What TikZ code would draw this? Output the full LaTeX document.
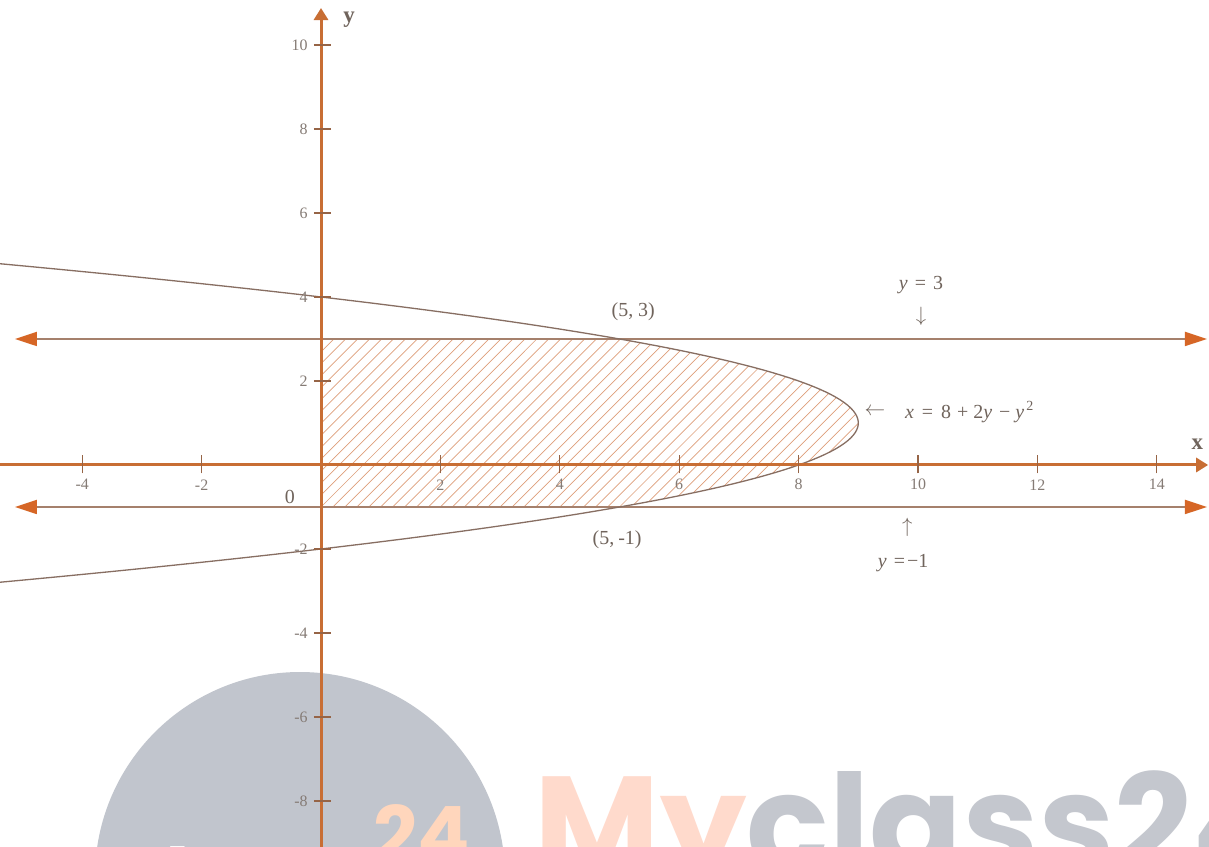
\documentclass[tikz,border=0pt]{standalone}
\usepackage{fontspec}
\setmainfont{Liberation Serif}
\newfontfamily\wmfont{Poppins}
\usetikzlibrary{arrows.meta}
\definecolor{axisc}{RGB}{200,110,52}
\definecolor{tickc}{RGB}{150,100,70}
\definecolor{linec}{RGB}{165,128,108}
\definecolor{tipc}{RGB}{214,102,38}
\definecolor{curvec}{RGB}{135,110,98}
\definecolor{hatchc}{RGB}{222,158,122}
\definecolor{txtc}{RGB}{112,100,92}
\definecolor{wmgray}{RGB}{193,197,205}
\definecolor{wmtext}{RGB}{196,199,206}
\definecolor{wmorange}{RGB}{255,218,204}
\definecolor{wmorangeb}{RGB}{255,214,188}
\begin{document}
\begin{tikzpicture}[x=59.7bp,y=42bp,
  axisline/.style={draw=axisc,line width=3bp,-{Triangle[length=12bp,width=14bp]}},
  boundline/.style={draw=linec,line width=1.8bp,{Triangle[length=22bp,width=14bp,color=tipc,fill=tipc]}-{Triangle[length=22bp,width=14bp,color=tipc,fill=tipc]}},
  tickmark/.style={draw=tickc,line width=1.1bp},
  ticklab/.style={text=txtc!85,font=\fontsize{16}{16}\selectfont,inner sep=0pt},
  lab/.style={text=txtc,font=\fontsize{20}{20}\selectfont,inner sep=0pt},
  axlab/.style={text=txtc,font=\fontsize{23}{23}\selectfont\bfseries,inner sep=0pt},
  curve/.style={draw=curvec,line width=1.3bp},
  hatchline/.style={draw=hatchc,line width=0.7bp},
  wm/.style={inner sep=0pt,anchor=base west}
]
\useasboundingbox (-5.377,-9.095) rectangle (14.874,11.071);
\clip (-5.377,-9.095) rectangle (14.874,11.071);
\fill[white] (-5.377,-9.095) rectangle (14.874,11.071);

% watermark
\fill[wmgray] (-0.352,-9.81) circle[radius=205bp];
\node[wm,anchor=base east,text=white,font=\wmfont\bfseries\fontsize{84}{84}\selectfont] (wmin) at (0.32,-10.55) {class};
\node[wm,text=wmorangeb,font=\wmfont\bfseries\fontsize{78}{78}\selectfont] (wm24) at (0.871,-9.476) {24};
\node[wm,font=\wmfont\bfseries\fontsize{137}{137}\selectfont] (wmbig) at (3.58,-9.70) {\textcolor{wmorange}{My}\textcolor{wmtext}{class24}};

% hatched region
\begin{scope}
  \clip (0,-1) -- (5,-1) -- plot[domain=-1:3,samples=60,variable=\t] ({8+2*\t-\t*\t},\t) -- (0,3) -- cycle;
  \foreach \s in {-3,-2.8,...,9.6} \draw[hatchline] (\s,-1) -- ++(2.814,4);
\end{scope}

% boundary lines
\coordinate (l3a) at (-5.126,3);
\coordinate (l3b) at (14.84,3);
\coordinate (lma) at (-5.126,-1);
\coordinate (lmb) at (14.84,-1);
\draw[boundline] (l3a) -- (l3b);
\draw[boundline] (lma) -- (lmb);

% parabola
\draw[curve] plot[domain=-2.85:4.85,samples=120,variable=\t] ({8+2*\t-\t*\t},\t);

% axes
\coordinate (xa) at (-5.4,0);
\coordinate (xb) at (14.86,0);
\coordinate (ya) at (0,-9.2);
\coordinate (yb) at (0,10.88);
\draw[axisline] (xa) -- (xb);
\draw[axisline] (ya) -- (yb);

% ticks
\foreach \x in {-4,-2,2,4,6,8,10,12,14} {
  \draw[tickmark] (\x,-0.2) -- (\x,0.24);
  \node[ticklab] at (\x,-0.47) {\x};
}
\foreach \y in {-8,-6,-4,-2,2,4,6,8,10} {
  \draw[tickmark] (-0.12,\y) -- (0.17,\y);
  \node[ticklab,anchor=east] at (-0.22,\y) {\y};
}
\node[lab] (origin) at (-0.52,-0.76) {0};
\node[axlab] (ylab) at (0.47,10.6) {y};
\node[axlab] (xlab) at (14.68,0.5) {x};

% labels
\node[lab] (p53) at (5.23,3.64) {(5,\kern5bp 3)};
\node[lab] (y3) at (10.05,4.29) {\textit{y}\hspace{7bp}=\hspace{7bp}3};
\node[lab] (y3arr) at (10.05,3.55) {$\downarrow$};
\node[lab] (parr) at (9.28,1.26) {$\leftarrow$};
\node[lab,anchor=west] (peq) at (9.78,1.26) {\textit{x}\hspace{8bp}=\hspace{8bp}8\hspace{6bp}+\hspace{5bp}2\textit{y}\hspace{7bp}−\hspace{5bp}\textit{y}\hspace{2bp}\textsuperscript{2}};
\node[lab] (p51) at (4.96,-1.79) {(5,\kern4bp -1)};
\node[lab] (ymarr) at (9.82,-1.48) {$\uparrow$};
\node[lab] (ym) at (9.75,-2.33) {\textit{y}\hspace{7bp}=\hspace{2bp}−1};
\end{tikzpicture}
\end{document}
